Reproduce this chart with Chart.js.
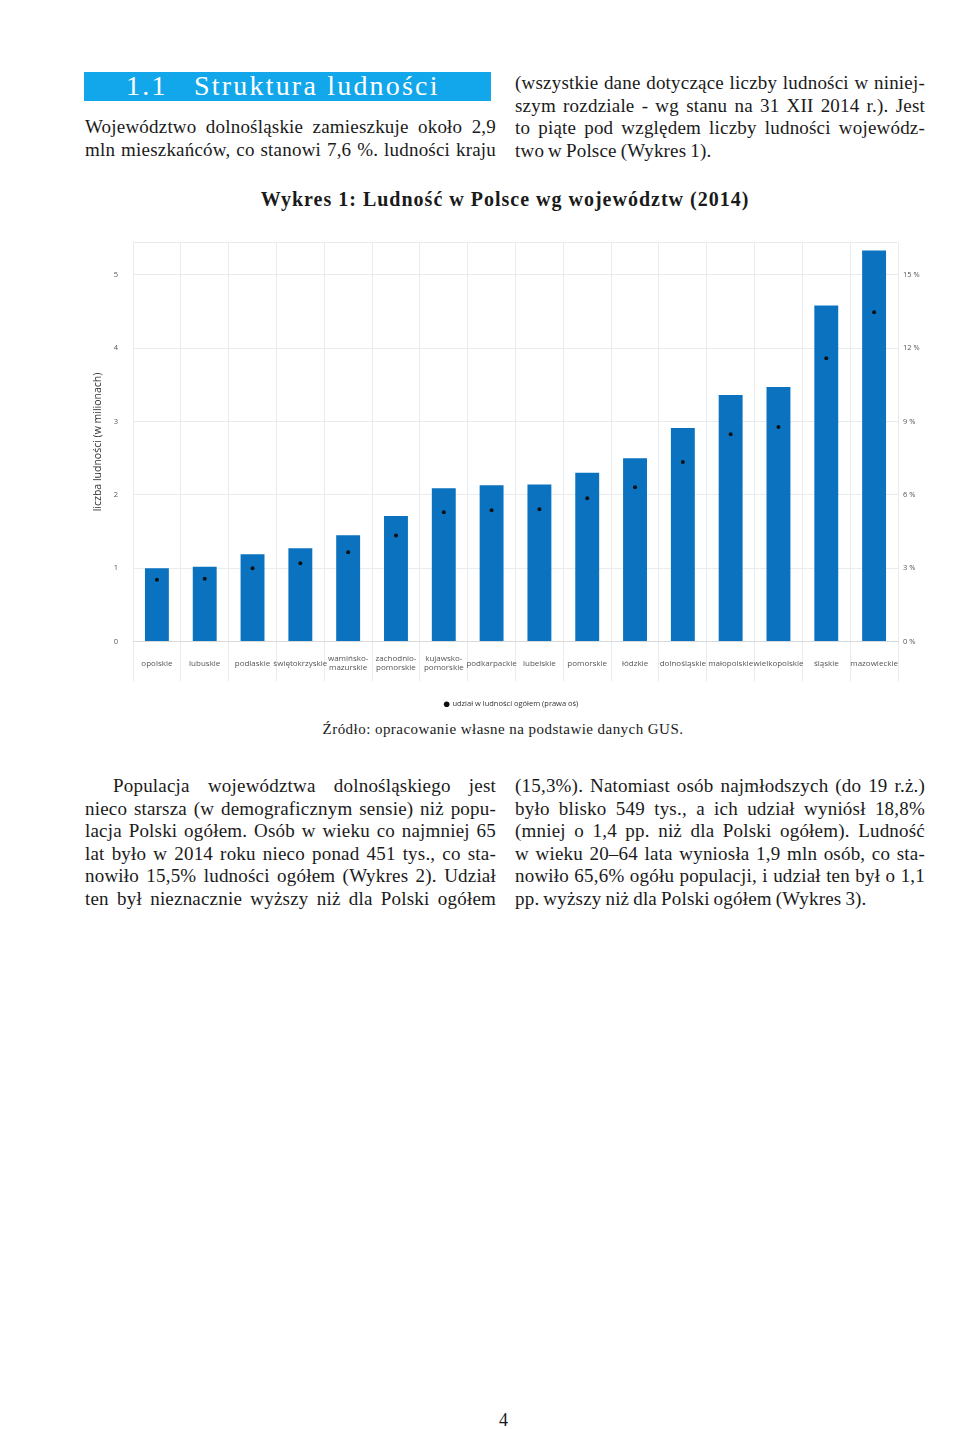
<!DOCTYPE html>
<html lang="pl">
<head>
<meta charset="utf-8">
<title>Wykres 1: Ludność w Polsce wg województw (2014)</title>
<script src="https://cdn.jsdelivr.net/npm/chart.js@4/dist/chart.umd.min.js"></script>
<style>
  html, body { margin:0; padding:0; background:#fff; }
  body { width:960px; height:1429px; position:relative; overflow:hidden; font-family:"Liberation Serif","DejaVu Serif",serif; color:#1a1a1a; }
  .col { position:absolute; font-size:19px; line-height:22.5px; letter-spacing:0.2px; word-spacing:-1px; }
  .col div { white-space:nowrap; }
  .col .j { text-align:justify; text-align-last:justify; }
  .head { position:absolute; left:84px; top:72px; width:407px; height:29px; background:#12a6ea; color:#fff; font-size:28px; line-height:30px; letter-spacing:2.2px; }
  .head span { position:absolute; top:-1px; }
  .title { position:absolute; left:0; width:1010px; top:188px; text-align:center; font-weight:bold; font-size:20px; letter-spacing:1px; }
  .src { position:absolute; left:0; width:1006px; top:721px; text-align:center; font-size:15px; letter-spacing:0.45px; }
  .pnum { position:absolute; left:499px; top:1410px; font-size:18px; }
  #wrap { position:absolute; left:88px; top:223px; width:847px; height:495px; }
</style>
</head>
<body>
<div class="head"><span style="left:42px">1.1</span><span style="left:110px">Struktura ludności</span></div>

<div class="col" style="left:85px; top:116px; width:411px;">
  <div class="j">Województwo dolnośląskie zamieszkuje około 2,9</div>
  <div class="j">mln mieszkańców, co stanowi 7,6 %. ludności kraju</div>
</div>
<div class="col" style="left:515px; top:72px; width:410px;">
  <div class="j">(wszystkie dane dotyczące liczby ludności w niniej-</div>
  <div class="j">szym rozdziale - wg stanu na 31 XII 2014 r.). Jest</div>
  <div class="j">to piąte pod względem liczby ludności wojewódz-</div>
  <div>two w Polsce (Wykres 1).</div>
</div>

<div class="title">Wykres 1: Ludność w Polsce wg województw (2014)</div>
<div id="wrap"><canvas id="chart-pop"></canvas></div>
<div class="src">Źródło: opracowanie własne na podstawie danych GUS.</div>

<div class="col" style="left:85px; top:775px; width:411px;">
  <div class="j" style="padding-left:28px">Populacja województwa dolnośląskiego jest</div>
  <div class="j">nieco starsza (w demograficznym sensie) niż popu-</div>
  <div class="j">lacja Polski ogółem. Osób w wieku co najmniej 65</div>
  <div class="j">lat było w 2014 roku nieco ponad 451 tys., co sta-</div>
  <div class="j">nowiło 15,5% ludności ogółem (Wykres 2). Udział</div>
  <div class="j">ten był nieznacznie wyższy niż dla Polski ogółem</div>
</div>
<div class="col" style="left:515px; top:775px; width:410px;">
  <div class="j">(15,3%). Natomiast osób najmłodszych (do 19 r.ż.)</div>
  <div class="j">było blisko 549 tys., a ich udział wyniósł 18,8%</div>
  <div class="j">(mniej o 1,4 pp. niż dla Polski ogółem). Ludność</div>
  <div class="j">w wieku 20–64 lata wyniosła 1,9 mln osób, co sta-</div>
  <div class="j">nowiło 65,6% ogółu populacji, i udział ten był o 1,1</div>
  <div>pp. wyższy niż dla Polski ogółem (Wykres 3).</div>
</div>

<div class="pnum">4</div>

<script>
// dane (2014)
const regions = ['opolskie', 'lubuskie', 'podlaskie', 'świętokrzyskie', ['wamińsko-', 'mazurskie'], ['zachodnio-', 'pomorskie'],
  ['kujawsko-', 'pomorskie'], 'podkarpackie', 'lubelskie', 'pomorskie', 'łódzkie', 'dolnośląskie', 'małopolskie',
  'wielkopolskie', 'śląskie', 'mazowieckie'];
const population = [1.00, 1.02, 1.19, 1.27, 1.45, 1.71, 2.09, 2.13, 2.14, 2.30, 2.50, 2.91, 3.36, 3.47, 4.58, 5.33]; // mln
const share = [2.53, 2.57, 3.0, 3.2, 3.65, 4.34, 5.29, 5.37, 5.41, 5.86, 6.31, 7.34, 8.48, 8.77, 11.59, 13.47]; // %
const leftTicks = [0, 1, 2, 3, 4, 5];
const rightTicks = [0, 3, 6, 9, 12, 15];
const leftMax = 5.44, rightMax = 16.32;

const FONT = '"Open Sans", "Liberation Sans", sans-serif';
const GRID = '#e9ecef';

new Chart(document.getElementById('chart-pop'), {
  type: 'bar',
  data: {
    labels: regions,
    datasets: [
      { label: 'liczba ludności', data: population, backgroundColor: '#0a72bf', barPercentage: 0.5, categoryPercentage: 1, yAxisID: 'y', order: 2 },
      { label: 'udział w ludności ogółem (prawa oś)', type: 'line', data: share, yAxisID: 'y2', showLine: false,
        pointRadius: 2, pointHoverRadius: 2, pointBackgroundColor: '#111', pointBorderWidth: 0, order: 1 }
    ]
  },
  options: {
    responsive: true, maintainAspectRatio: false, animation: false,
    layout: { padding: 0 },
    plugins: {
      legend: { position: 'bottom',
        labels: { filter: item => item.datasetIndex === 1, usePointStyle: true, pointStyle: 'circle', boxWidth: 4, boxHeight: 4, padding: 10,
          color: '#333', font: { family: FONT, size: 7.5 } } },
      tooltip: { enabled: false }
    },
    scales: {
      x: {
        grid: { color: GRID, tickLength: 40, offset: true },
        border: { color: '#d9d9d9' },
        ticks: { autoSkip: false, maxRotation: 0, minRotation: 0, padding: -23, crossAlign: 'center', color: '#555', font: { family: FONT, size: 8 } },
        afterFit: s => { s.height = 49; }
      },
      y: {
        position: 'left', min: 0, max: leftMax,
        afterBuildTicks: s => { s.ticks = leftTicks.concat([leftMax]).map(v => ({ value: v })); },
        ticks: { padding: 15, color: '#555', font: { family: FONT, size: 7.5 }, callback: v => Number.isInteger(v) ? v : '' },
        grid: { color: GRID, drawTicks: false },
        border: { display: false },
        title: { display: true, text: 'liczba ludności (w milionach)', color: '#333', font: { family: FONT, size: 10.5 }, padding: { top: 4, bottom: 0 } },
        afterFit: s => { s.width = 45; }
      },
      y2: {
        position: 'right', min: 0, max: rightMax,
        afterBuildTicks: s => { s.ticks = rightTicks.map(v => ({ value: v })); },
        ticks: { padding: 5, color: '#555', font: { family: FONT, size: 7.5 }, callback: v => v + ' %' },
        grid: { display: false, drawTicks: false },
        border: { display: false },
        afterFit: s => { s.width = 37; }
      }
    }
  }
});
</script>
</body>
</html>
